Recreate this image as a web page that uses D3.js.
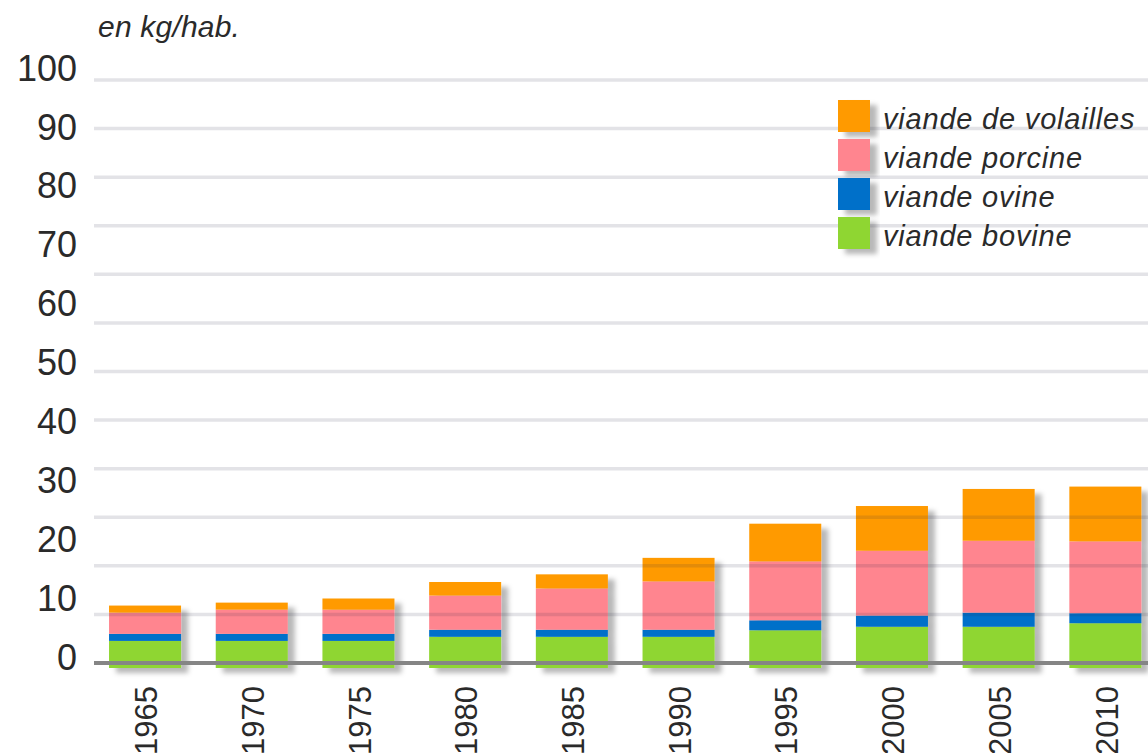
<!DOCTYPE html>
<html><head><meta charset="utf-8">
<script src="https://cdn.jsdelivr.net/npm/d3@7"></script>
<style>
html,body{margin:0;padding:0;background:#fff;}
svg{display:block;font-family:"Liberation Sans",Arial,sans-serif;}
</style></head>
<body>
<svg id="chart" width="1148" height="753"></svg>
<script>
const years = ["1965","1970","1975","1980","1985","1990","1995","2000","2005","2010"];
const bovine   = [4.6, 4.6, 4.6, 5.3, 5.3, 5.3, 6.4, 7.0, 7.0, 7.6];
const ovine    = [1.2, 1.2, 1.2, 1.2, 1.2, 1.2, 1.7, 1.9, 2.4, 1.7];
const porcine  = [3.6, 4.1, 4.1, 5.8, 7.0, 8.2, 10.0, 11.0, 12.2, 12.2];
const volailles= [1.2, 1.2, 1.9, 2.3, 2.4, 4.0, 6.4, 7.6, 8.8, 9.3];
const seriesNames = ["viande bovine","viande ovine","viande porcine","viande de volailles"];
const seriesColors = ["#8FD630","#0070C9","#FF858F","#FF9A05"];
const yTicks = [0,10,20,30,40,50,60,70,80,90,100];
const gridSteps = d3.range(0,13);
const unitLabel = "en kg/hab.";

const svg = d3.select("#chart");
const defs = svg.append("defs");
const f = defs.append("filter").attr("id","shadow").attr("x","-20%").attr("y","-20%").attr("width","150%").attr("height","150%");
f.append("feDropShadow").attr("dx",7).attr("dy",5).attr("stdDeviation",2.5)
  .attr("flood-color","#000").attr("flood-opacity",0.28);

const x = d3.scaleBand().domain(years).range([91.7,1158.7]).paddingInner(0.325).paddingOuter(0.1625);
const y = d3.scaleLinear().domain([0,100]).range([668,79]);
const grid = d3.scaleLinear().domain([0,12]).range([663,80]);

const rows = years.map((yr,i)=>({year:yr, "viande bovine":bovine[i], "viande ovine":ovine[i], "viande porcine":porcine[i], "viande de volailles":volailles[i]}));
const stack = d3.stack().keys(seriesNames)(rows);

// unit label
svg.append("text").attr("x",98).attr("y",37).attr("font-size",30).attr("font-style","italic")
  .attr("fill","#2a2a2a").attr("letter-spacing","0.2").text(unitLabel);

// y tick labels
svg.append("g").selectAll("text").data(yTicks).join("text")
  .attr("x",77).attr("y",d=>y(d)-11).attr("dy","0.35em").attr("text-anchor","end")
  .attr("font-size",36).attr("fill","#2a2a2a").text(d=>d);

// bars
const barG = svg.append("g");
years.forEach((yr,i)=>{
  const g = barG.append("g").attr("filter","url(#shadow)");
  stack.forEach((s,k)=>{
    g.append("rect").attr("x",x(yr)).attr("width",x.bandwidth())
      .attr("y",y(s[i][1])).attr("height",y(s[i][0])-y(s[i][1]))
      .attr("fill",seriesColors[k]);
  });
});

// gridlines on top
svg.append("g").selectAll("line").data(gridSteps.filter(d=>d>0)).join("line")
  .attr("x1",94).attr("x2",1148).attr("y1",d=>grid(d)).attr("y2",d=>grid(d))
  .attr("stroke","rgba(40,40,70,0.13)").attr("stroke-width",3.5);
svg.append("line").attr("x1",94).attr("x2",1148).attr("y1",grid(0)).attr("y2",grid(0))
  .attr("stroke","#858585").attr("stroke-width",4);

// year labels
svg.append("g").selectAll("text").data(years).join("text")
  .attr("transform",d=>`translate(${x(d)+x.bandwidth()/2+1},686) rotate(-90)`)
  .attr("dy","0.36em").attr("text-anchor","end").attr("font-size",31).attr("fill","#2a2a2a").text(d=>d);

// legend
const legendOrder = [3,2,1,0];
const lg = svg.append("g");
legendOrder.forEach((k,j)=>{
  const yy = 100 + j*39;
  lg.append("rect").attr("x",838).attr("y",yy).attr("width",32).attr("height",32)
    .attr("fill",seriesColors[k]).attr("filter","url(#shadow)");
  lg.append("text").attr("x",883).attr("y",yy+19).attr("dy","0.35em").attr("letter-spacing","0.8")
    .attr("font-size",29).attr("font-style","italic").attr("fill","#2a2a2a").text(seriesNames[k]);
});
</script>
</body></html>
